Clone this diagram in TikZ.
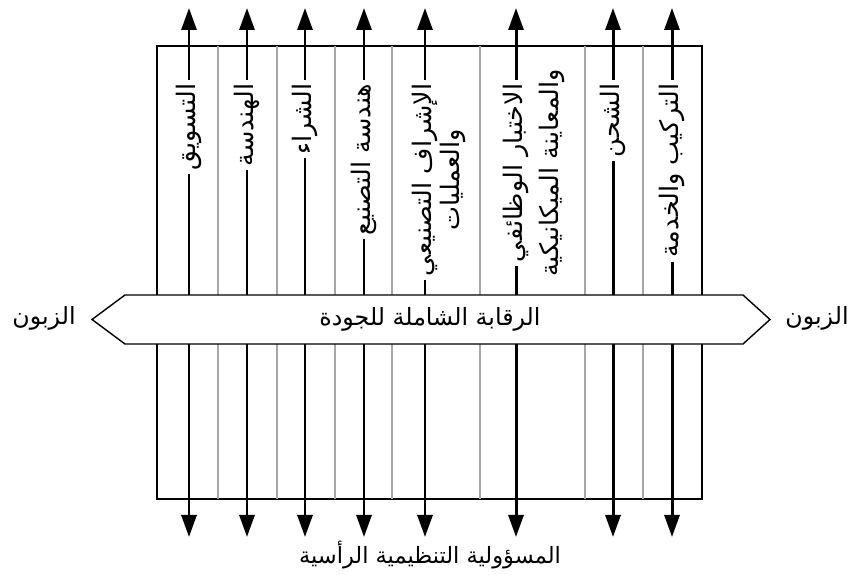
\documentclass[tikz,border=0pt]{standalone}
\usepackage{fontspec}
\newfontfamily\arabicfont[Script=Arabic]{DejaVu Sans}
\TeXXeTstate=1
\usetikzlibrary{arrows.meta, positioning}
\newcommand{\artext}[1]{\arabicfont\beginR #1\endR}

\begin{document}
\begin{tikzpicture}[>={Triangle[length=0.44cm, width=0.3cm]}, font=\fontsize{13.5}{16}\selectfont,
  dept/.style={rotate=90, anchor=east, inner sep=2pt, font=\fontsize{14.5}{17.5}\selectfont\arabicfont},
  divider/.style={gray!70, line width=0.7pt},
  resp/.style={line width=1.7pt},
  ]
  \useasboundingbox (0,0) rectangle (17,-11.5);
  % Frame and department columns
  \draw[line width=1.4pt] (3.14,-0.92) rectangle (14.04,-9.98);
  \foreach \x in {4.36,5.54,6.7,7.84,9.6,11.7,12.86}
    \draw[divider] (\x,-0.92) -- (\x,-9.98);

  \coordinate (top) at (0,-0.16);
  \coordinate (bot) at (0,-10.74);

  % Departments
  \node[dept] (mkt) at (3.78,-1.6) {\artext{التسويق}};
  \node[dept] (eng) at (4.94,-1.6) {\artext{الهندسة}};
  \node[dept] (pur) at (6.1,-1.6) {\artext{الشراء}};
  \node[dept] (mfg) at (7.28,-1.6) {\artext{هندسة التصنيع}};
  \node[dept] (ops) at (8.5,-1.6) {\artext{الإشراف التصنيعي}};
  \path (ops.center) ++(0.56,0) node[dept, anchor=center] (ops2) {\artext{والعمليات}};
  \node[dept] (tst) at (10.32,-1.6) {\artext{الاختبار الوظائفي}};
  \path (tst.center) ++(0.72,0) node[dept, anchor=center] (tst2) {\artext{والمعاينة الميكانيكية}};
  \node[dept] (shp) at (12.26,-1.6) {\artext{الشحن}};
  \node[dept] (ins) at (13.44,-1.6) {\artext{التركيب والخدمة}};

  % Vertical responsibility arrows
  \foreach \d in {mkt,eng,pur,mfg,ops,tst,shp,ins} {
    \draw[resp, ->] (\d.east) -- (\d.east |- top);
    \draw[resp, ->] (\d.west) -- (\d.west |- bot);
  }

  % Quality banner
  \draw[line width=0.8pt, fill=white] (1.84,-6.39) -- (2.5,-5.9) -- (14.86,-5.9)
    -- (15.4,-6.39) -- (14.86,-6.88) -- (2.5,-6.88) -- cycle;
  \node (tqc) at (8.6,-6.39) {\artext{الرقابة الشاملة للجودة}};
  \node (custL) at (0.88,-6.36) {\artext{الزبون}};
  \node (custR) at (16.34,-6.36) {\artext{الزبون}};

  \node[font=\fontsize{12.8}{15}\selectfont] (vert) at (8.6,-11.1) {\artext{المسؤولية التنظيمية الرأسية}};
\end{tikzpicture}
\end{document}
